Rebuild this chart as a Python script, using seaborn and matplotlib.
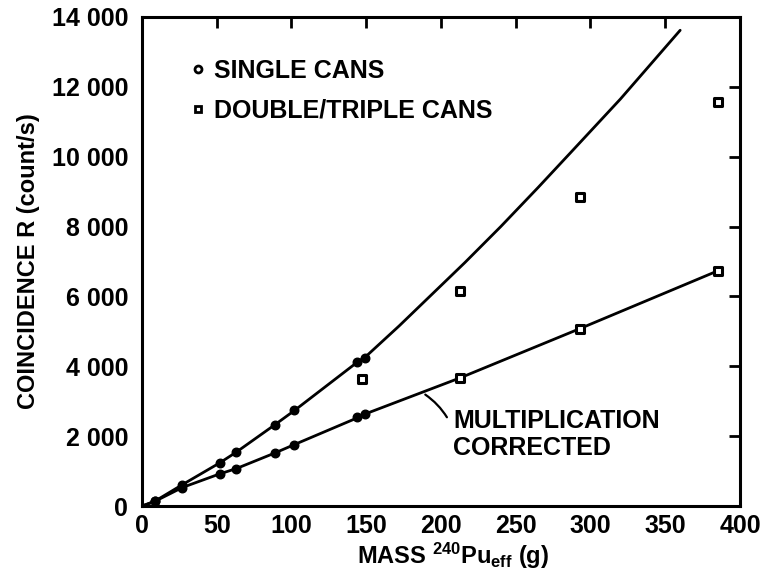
import numpy as np
import pandas as pd
import matplotlib
matplotlib.use("Agg")
import matplotlib.pyplot as plt
from matplotlib.lines import Line2D
import seaborn as sns

# Single cans : masse 240Pu eff (g), coincidence brute et corrigee (count/s)
single_mass = [8.5, 27, 52, 63, 89, 102, 144, 149]
single_raw = [135, 611, 1235, 1540, 2330, 2735, 4130, 4250]
single_corr = [130, 530, 920, 1070, 1520, 1760, 2560, 2630]

# Double/triple cans
multi_mass = [147, 213, 293, 385]
multi_raw = [3645, 6160, 8840, 11560]
multi_corr = [2600, 3672, 5080, 6730]

# Courbes tracees
upper_x = [0, 8.5, 27, 52, 63, 89, 102, 145, 149, 172, 216, 240, 265, 287, 320, 360]
upper_y = [0, 135, 611, 1235, 1540, 2330, 2735, 4150, 4250, 5155, 6970, 8000, 9120, 10130, 11650, 13620]
lower_x = [0, 8.5, 27, 52, 63, 89, 102, 146, 149, 213, 293, 385]
lower_y = [0, 130, 530, 920, 1070, 1520, 1760, 2560, 2630, 3672, 5080, 6730]

x_ticks = [0, 50, 100, 150, 200, 250, 300, 350, 400]
y_ticks = [0, 2000, 4000, 6000, 8000, 10000, 12000, 14000]
y_labels = ["0", "2 000", "4 000", "6 000", "8 000", "10 000", "12 000", "14 000"]

sns.set_theme(style="white")
plt.rcParams["font.family"] = ["Liberation Sans", "DejaVu Sans"]
plt.rcParams["font.weight"] = "bold"
plt.rcParams["axes.labelweight"] = "bold"
plt.rcParams["axes.labelcolor"] = "black"
plt.rcParams["text.color"] = "black"
plt.rcParams["mathtext.fontset"] = "custom"
plt.rcParams["mathtext.rm"] = "Liberation Sans:bold"
plt.rcParams["mathtext.default"] = "regular"

fig = plt.figure(figsize=(7.75, 5.76), dpi=100)
ax = fig.add_axes([0.1832, 0.1215, 0.7716, 0.849])

df_up = pd.DataFrame({"m": upper_x, "R": upper_y})
df_lo = pd.DataFrame({"m": lower_x, "R": lower_y})
sns.lineplot(data=df_up, x="m", y="R", color="black", lw=2, ax=ax, sort=False, zorder=2)
sns.lineplot(data=df_lo, x="m", y="R", color="black", lw=2, ax=ax, sort=False, zorder=2)

# points
sns.scatterplot(x=single_mass, y=single_raw, marker="o", s=38, color="black",
                edgecolor="black", linewidth=1, ax=ax, zorder=3)
sns.scatterplot(x=single_mass, y=single_corr, marker="o", s=38, color="black",
                edgecolor="black", linewidth=1, ax=ax, zorder=3)
sns.scatterplot(x=multi_mass, y=multi_raw, marker="s", s=34, color="white",
                edgecolor="black", linewidth=2.2, ax=ax, zorder=4)
sns.scatterplot(x=multi_mass[1:], y=multi_corr[1:], marker="s", s=34, color="white",
                edgecolor="black", linewidth=2.2, ax=ax, zorder=4)

ax.set_xlim(0, 400)
ax.set_ylim(0, 14000)
ax.set_xticks(x_ticks)
ax.set_xticklabels([str(v) for v in x_ticks])
ax.set_yticks(y_ticks)
ax.set_yticklabels(y_labels)
ax.tick_params(axis="both", direction="in", length=8, width=2, labelsize=18,
               top=True, right=True, colors="black")
ax.tick_params(axis="x", pad=6)
ax.tick_params(axis="y", pad=10)
for sp in ax.spines.values():
    sp.set_linewidth(2.2)
    sp.set_color("black")

ax.set_xlabel(r"MASS $^{240}$Pu$_{\mathregular{eff}}$ (g)", fontsize=17, labelpad=3)
ax.xaxis.set_label_coords(0.52, -0.072)
ax.set_ylabel("COINCIDENCE R (count/s)", fontsize=17, labelpad=8)

handles = [
    Line2D([], [], ls="", marker="o", ms=5, mfc="white", mec="black", mew=2),
    Line2D([], [], ls="", marker="s", ms=5, mfc="white", mec="black", mew=2),
]
ax.legend(handles, ["SINGLE CANS", "DOUBLE/TRIPLE CANS"], loc="upper left",
          bbox_to_anchor=(0.06, 0.94), frameon=False, fontsize=18,
          handlelength=0.6, handletextpad=0.35, labelspacing=0.62, borderpad=0)

ax.annotate("MULTIPLICATION\nCORRECTED", xy=(189.5, 3190), xytext=(208, 2780),
            fontsize=18, ha="left", va="top", linespacing=1.15,
            arrowprops=dict(arrowstyle="-", color="black", lw=1.6,
                            connectionstyle="arc3,rad=0.15", relpos=(0, 0.6),
                            shrinkA=4, shrinkB=0))

fig.savefig("out.png", dpi=100)
